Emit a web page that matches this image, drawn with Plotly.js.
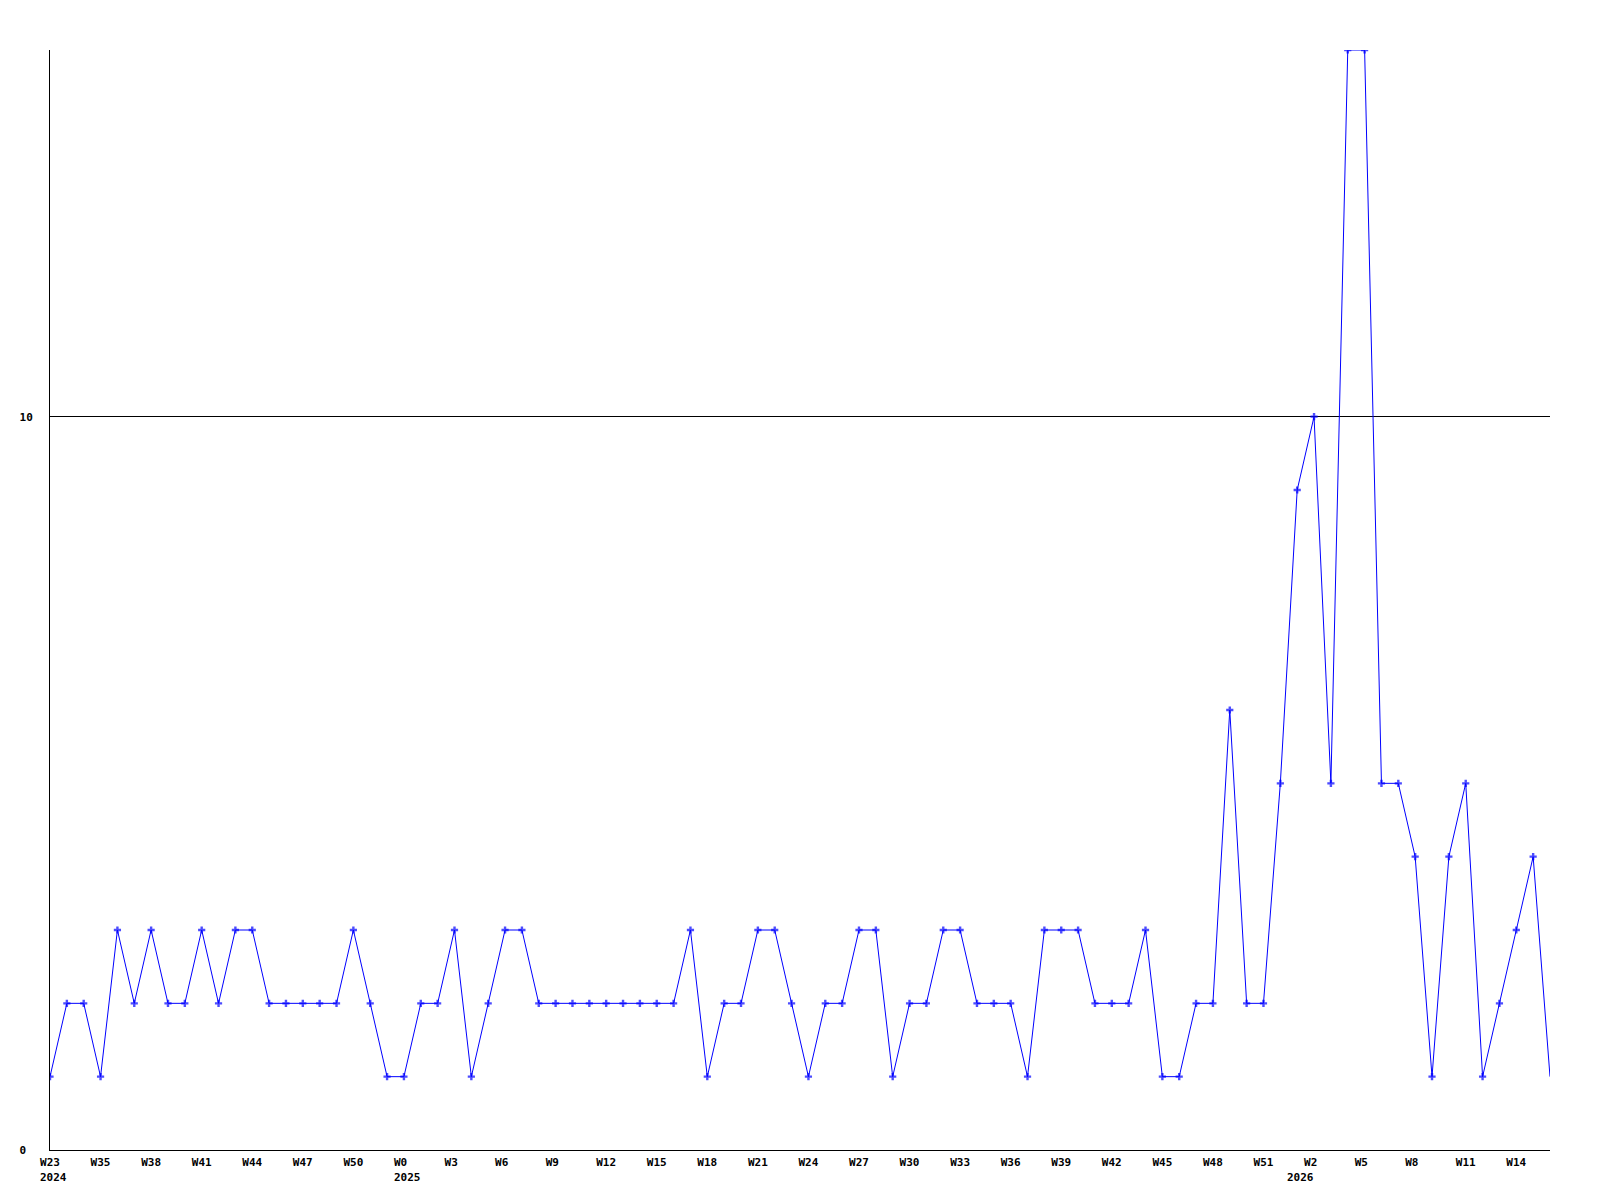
<!DOCTYPE html>
<html>
<head>
<meta charset="utf-8">
<script src="https://cdn.plot.ly/plotly-3.0.1.min.js"></script>
<style>html,body{margin:0;padding:0;background:#fff;}#chart{width:1600px;height:1200px;}</style>
</head>
<body>
<div id="chart"></div>
<script>
// Weekly values, one per week (first point labelled W23 2024 in the source)
const weekLabels = [
  "W23","W33","W34","W35","W36","W37","W38","W39","W40","W41","W42","W43","W44","W45","W46","W47","W48","W49","W50","W51","W52",
  "W0","W1","W2","W3","W4","W5","W6","W7","W8","W9","W10","W11","W12","W13","W14","W15","W16","W17","W18","W19","W20","W21","W22","W23","W24","W25","W26","W27","W28","W29","W30","W31","W32","W33","W34","W35","W36","W37","W38","W39","W40","W41","W42","W43","W44","W45","W46","W47","W48","W49","W50","W51","W52",
  "W1","W2","W3","W4","W5","W6","W7","W8","W9","W10","W11","W12","W13","W14","W15","W16"
];
// Year label placed at the first week of each year
const yearIndex = [0, 21, 74];
const yearText = ["2024", "2025", "2026"];
const values = [
  1,2,2,1,3,2,3,2,2,3,2,3,3,2,2,2,2,2,3,2,1,
  1,2,2,3,1,2,3,3,2,2,2,2,2,2,2,2,2,3,1,2,2,3,3,2,1,2,2,3,3,1,2,2,3,3,2,2,2,1,3,3,3,2,2,2,3,1,1,2,2,6,2,2,5,
  9,10,5,15,15,5,5,4,1,4,5,1,2,3,4,1
];
const yTickVals = [0, 10];
const yTickText = ["0\u00a0", "10"];
const tickStep = 3;

const xs = values.map((_, i) => i);
const tickVals = xs.filter(i => i % tickStep === 0);
// labels are drawn left-aligned in the source; pad short ones so centring matches
const tickText = tickVals.map(i => weekLabels[i].length < 3 ? weekLabels[i] + "\u00a0" : weekLabels[i]);
const markerSizes = values.map((_, i) => i === values.length - 1 ? 0 : 6);

const monoBold = {family: "DejaVu Sans Mono, monospace", size: 11, color: "#000", weight: "bold"};

const trace = {
  x: xs,
  y: values,
  type: "scatter",
  mode: "lines+markers",
  line: {color: "#0000ff", width: 1},
  marker: {color: "#0000ff", symbol: "cross", size: markerSizes, line: {width: 0}},
  hoverinfo: "none"
};

const annotations = yearIndex.map((xi, k) => ({
  x: xi, y: 0, xref: "x", yref: "paper",
  text: yearText[k], showarrow: false,
  xanchor: "left", yanchor: "top",
  xshift: -12, yshift: -19,
  font: monoBold
}));

const layout = {
  width: 1600, height: 1200,
  margin: {l: 50, r: 50, t: 50, b: 50, pad: 0},
  paper_bgcolor: "#fff", plot_bgcolor: "#fff",
  showlegend: false,
  font: {family: "DejaVu Sans Mono, monospace", size: 11, color: "#000"},
  annotations: annotations,
  xaxis: {
    range: [0, values.length - 1],
    tickmode: "array", tickvals: tickVals, ticktext: tickText,
    showgrid: false, zeroline: false,
    showline: true, linecolor: "#000", linewidth: 1,
    ticks: "", ticklabelstandoff: 2, tickfont: monoBold,
    fixedrange: true
  },
  yaxis: {
    range: [0, 15],
    tickmode: "array", tickvals: yTickVals, ticktext: yTickText,
    showgrid: true, gridcolor: "#000", gridwidth: 1,
    zeroline: false,
    showline: true, linecolor: "#000", linewidth: 1,
    ticks: "", ticklabelstandoff: 14, tickfont: monoBold,
    fixedrange: true
  }
};

Plotly.newPlot("chart", [trace], layout, {displayModeBar: false, staticPlot: true});
</script>
</body>
</html>
